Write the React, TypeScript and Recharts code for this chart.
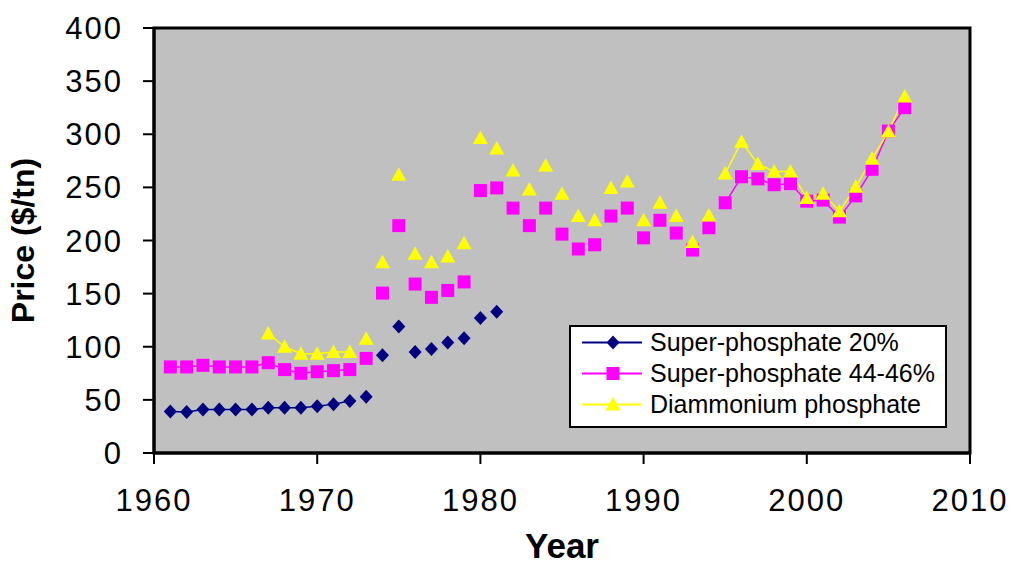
import { ComposedChart, Legend, Line, ReferenceArea, XAxis, YAxis } from "recharts";

const FONT = '"Liberation Sans", Arial, sans-serif';

const YEARS = [
  1961, 1962, 1963, 1964, 1965, 1966, 1967, 1968, 1969, 1970, 1971, 1972, 1973, 1974, 1975, 1976,
  1977, 1978, 1979, 1980, 1981, 1982, 1983, 1984, 1985, 1986, 1987, 1988, 1989, 1990, 1991, 1992,
  1993, 1994, 1995, 1996, 1997, 1998, 1999, 2000, 2001, 2002, 2003, 2004, 2005, 2006,
];

const SUPER_20 = [
  39, 38.5, 41, 41, 41, 41, 42.5, 42.5, 42.5, 44, 46, 49, 53, 92, 119, 95, 98, 104, 108, 127, 133,
  null, null, null, null, null, null, null, null, null, null, null, null, null, null, null, null,
  null, null, null, null, null, null, null, null, null,
];

const SUPER_44 = [
  81, 81, 82.5, 81, 81, 81, 85, 78.5, 75, 76.5, 77.5, 78.5, 89, 150.5, 214, 159, 146.5, 153, 161,
  247, 249.5, 230.5, 214, 230.5, 206, 192, 196, 223, 230.5, 202.5, 219, 207, 191, 212, 235.5, 260,
  258, 252.5, 253.5, 237, 238, 222, 242, 267, 303, 325,
];

const DAP = [
  null, null, null, null, null, null, 112.5, 100, 93.5, 93.5, 95, 95, 107.5, 179.5, 262, 187.5,
  179.5, 185, 197.5, 296.5, 286.5, 266, 248, 270.5, 244, 223, 219, 249.5, 255.5, 219, 235.5, 223,
  198.5, 223.5, 263, 293, 272, 265, 265, 240, 244, 227.5, 250.5, 277, 302.5, 335.5,
];

// year ranges where the original joins the markers with a line
const SP20_JOINED = [[1961, 1972]];
const SP44_JOINED = [[1961, 1972], [1995, 2006]];
const DAP_JOINED = [[1967, 1972], [1995, 2006]];

const X_TICKS = [1960, 1970, 1980, 1990, 2000, 2010];
const Y_TICKS = [0, 50, 100, 150, 200, 250, 300, 350, 400];

type Row = { year: number; sp20: number | null; sp44: number | null; dap: number | null };

const rows: Row[] = YEARS.map((year, i) => ({
  year,
  sp20: SUPER_20[i],
  sp44: SUPER_44[i],
  dap: DAP[i],
}));

type Marker = "diamond" | "square" | "triangle";

const SERIES: { key: keyof Row; name: string; color: string; marker: Marker; joined: number[][] }[] = [
  { key: "sp20", name: "Super-phosphate 20%", color: "#000080", marker: "diamond", joined: SP20_JOINED },
  { key: "sp44", name: "Super-phosphate 44-46%", color: "#FF00FF", marker: "square", joined: SP44_JOINED },
  { key: "dap", name: "Diammonium phosphate", color: "#FFFF00", marker: "triangle", joined: DAP_JOINED },
];

function markerShape(marker: Marker, cx: number, cy: number, color: string, key?: string) {
  if (marker === "diamond") {
    return (
      <polygon
        key={key}
        points={`${cx},${cy - 7} ${cx + 6.5},${cy} ${cx},${cy + 7} ${cx - 6.5},${cy}`}
        fill={color}
      />
    );
  }
  if (marker === "square") {
    return <rect key={key} x={cx - 6.5} y={cy - 6.5} width={13} height={13} fill={color} />;
  }
  return (
    <polygon
      key={key}
      points={`${cx},${cy - 7.5} ${cx + 7.5},${cy + 6} ${cx - 7.5},${cy + 6}`}
      fill={color}
    />
  );
}

function ChartLegend() {
  return (
    <div
      style={{
        width: 378,
        height: 103,
        boxSizing: "border-box",
        border: "2px solid #000",
        background: "#fff",
        fontFamily: FONT,
        fontSize: 25,
        color: "#000",
      }}
    >
      {SERIES.map((s) => (
        <div key={s.key} style={{ display: "flex", alignItems: "center", height: 31 }}>
          <svg width={79} height={31} style={{ flex: "none" }}>
            <line x1={11} x2={71} y1={15.5} y2={15.5} stroke={s.color} strokeWidth={2} />
            {markerShape(s.marker, 42, 15.5, s.color)}
          </svg>
          <span style={{ whiteSpace: "nowrap" }}>{s.name}</span>
        </div>
      ))}
    </div>
  );
}

export default function App() {
  return (
    <div style={{ position: "absolute", left: 0, top: 0, background: "#fff" }}>
      <ComposedChart
        width={1016}
        height={565}
        data={rows}
        margin={{ top: 28, right: 46, left: 0, bottom: 0 }}
      >
        <ReferenceArea
          x1={1960}
          x2={2010}
          y1={0}
          y2={400}
          fill="#C0C0C0"
          fillOpacity={1}
          stroke="#000"
          strokeWidth={3}
        />
        <XAxis
          dataKey="year"
          type="number"
          domain={[1960, 2010]}
          ticks={X_TICKS}
          height={112}
          axisLine={{ stroke: "#000", strokeWidth: 3 }}
          tickLine={{ stroke: "#000", strokeWidth: 2 }}
          tickSize={11}
          tickMargin={25}
          tick={{ fill: "#000", fontSize: 31, fontFamily: FONT, letterSpacing: 2 }}
          label={{
            content: (p: any) => {
              const vb = p.viewBox;
              return (
                <text
                  x={vb.x + vb.width / 2}
                  y={vb.y + 92}
                  textAnchor="middle"
                  dominantBaseline="central"
                  fontFamily={FONT}
                  fontWeight="bold"
                  fontSize={35}
                  fill="#000"
                >
                  Year
                </text>
              );
            },
          }}
        />
        <YAxis
          type="number"
          domain={[0, 400]}
          ticks={Y_TICKS}
          width={154}
          axisLine={{ stroke: "#000", strokeWidth: 3 }}
          tickLine={{ stroke: "#000", strokeWidth: 2 }}
          tickSize={11}
          tickMargin={20}
          tick={{ fill: "#000", fontSize: 31, fontFamily: FONT, letterSpacing: 2 }}
          label={{
            content: (p: any) => {
              const vb = p.viewBox;
              const cx = vb.x + 23;
              const cy = vb.y + vb.height / 2;
              return (
                <text
                  x={cx}
                  y={cy}
                  transform={`rotate(-90 ${cx} ${cy})`}
                  textAnchor="middle"
                  dominantBaseline="central"
                  fontFamily={FONT}
                  fontWeight="bold"
                  fontSize={32}
                  fill="#000"
                >
                  Price ($/tn)
                </text>
              );
            },
          }}
        />
        <Legend
          layout="vertical"
          align="center"
          verticalAlign="middle"
          wrapperStyle={{ left: 569, top: 325, width: 378 }}
          content={() => <ChartLegend />}
        />
        {SERIES.flatMap((s) => [
          ...s.joined.map(([from, to]) => (
            <Line
              key={`${s.key}-seg-${from}`}
              data={rows.filter((r) => r.year >= from && r.year <= to)}
              dataKey={s.key}
              stroke={s.color}
              strokeWidth={1.5}
              dot={false}
              activeDot={false}
              legendType="none"
              isAnimationActive={false}
            />
          )),
          <Line
            key={`${s.key}-marks`}
            dataKey={s.key}
            name={s.name}
            stroke="none"
            activeDot={false}
            connectNulls={false}
            isAnimationActive={false}
            dot={(p: any) => {
              if (p.value == null || p.cy == null || Number.isNaN(p.cy)) {
                return <g key={`${s.key}-${p.index}`} />;
              }
              return markerShape(s.marker, p.cx, p.cy, s.color, `${s.key}-${p.index}`);
            }}
          />,
        ])}
      </ComposedChart>
    </div>
  );
}
